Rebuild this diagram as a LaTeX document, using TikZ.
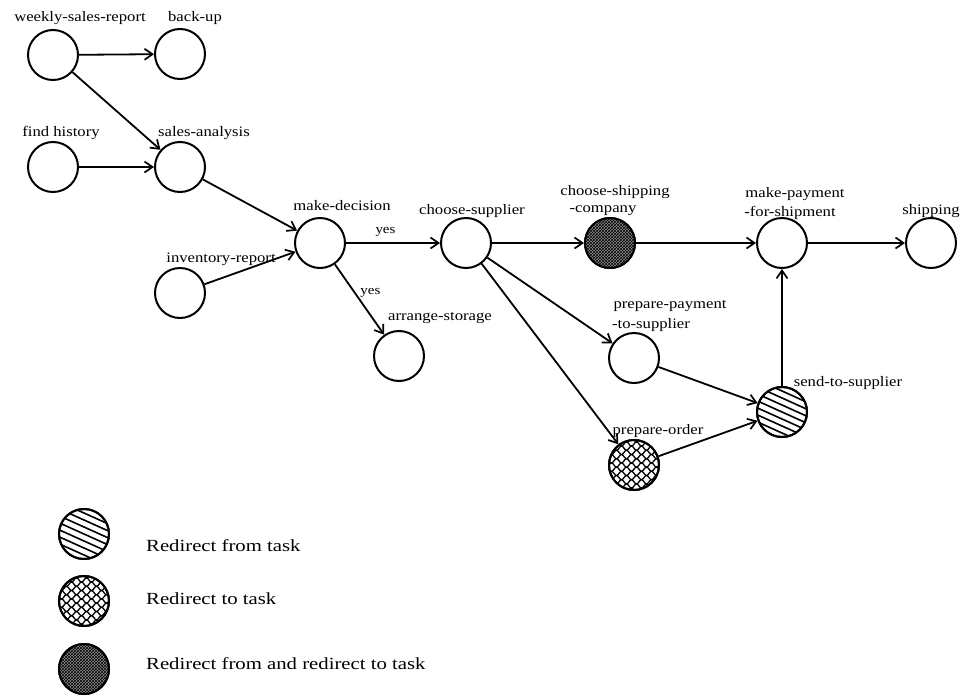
\documentclass[tikz,border=0pt]{standalone}
\usepackage{fontspec}
\setmainfont[FakeStretch=1.15]{Liberation Serif}
\newfontfamily\legendfont[FakeStretch=1.22]{Liberation Serif}
\usetikzlibrary{arrows.meta,patterns}

% fish-net mesh inside a circle centred on the current origin:
% mirrored sine waves that touch at their crests
\newcommand{\meshfill}{%
  \foreach \k in {-7,...,7}{
    \draw[line width=1.3pt] plot[domain=-28:28,samples=80,smooth]
      (\x,{\k*4.2+2.1*sin(\x*36+\k*180)});
  }}
% parallel diagonal hatching
\newcommand{\hatchfill}{%
  \foreach \k in {-42,-35,...,45}{
    \draw[line width=1.6pt] (-30,{\k-0.45*30}) -- (30,{\k+0.45*30});
  }}
% grainy dark fill
\newcommand{\densefill}[1]{%
  \fill[black!45] (#1) circle (25);
  \fill[pattern=crosshatch,pattern color=black] (#1) circle (25);}

\begin{document}
\begin{tikzpicture}[x=1pt,y=-1pt,
  task/.style={circle,draw,line width=2pt,minimum size=50pt,inner sep=0pt},
  rim/.style={line width=2pt},
  lbl/.style={font=\fontsize{14.5}{16}\selectfont,inner sep=0pt,anchor=center},
  leg/.style={font=\legendfont\fontsize{17}{19}\selectfont,inner sep=0pt,anchor=west},
  flow/.style={line width=1.8pt,-{Straight Barb[length=8pt,width=11pt,line width=1.7pt]}},
  yeslbl/.style={font=\fontsize{13}{14}\selectfont,inner sep=0pt}]
\useasboundingbox (0,0) rectangle (961,696);

% task circles
\node[task] (wsr) at (53,55)  {};
\node[task] (bu)  at (180,54) {};
\node[task] (fh)  at (53,167) {};
\node[task] (sa)  at (180,167) {};
\node[task] (md)  at (320,243) {};
\node[task] (ir)  at (180,293) {};
\node[task] (cs)  at (466,243) {};
\node[task] (csc) at (610,243) {};
\node[task] (mp)  at (782,243) {};
\node[task] (sh)  at (931,243) {};
\node[task] (as)  at (399,356) {};
\node[task] (pps) at (634,358) {};
\node[task] (sts) at (782,412) {};
\node[task] (po)  at (634,465) {};

% fills of the redirected tasks
\densefill{csc.center}
\begin{scope}[shift={(sts.center)}]
  \clip (0,0) circle (25); \hatchfill
\end{scope}
\begin{scope}[shift={(po.center)}]
  \clip (0,0) circle (25); \meshfill
\end{scope}
\draw[rim] (csc.center) circle (25) (sts.center) circle (25) (po.center) circle (25);

% task names
\node[lbl] (t1)  at (80,18)   {weekly-sales-report};
\node[lbl] (t2)  at (195,18)  {back-up};
\node[lbl] (t3)  at (61,133)  {find history};
\node[lbl] (t4)  at (204,133) {sales-analysis};
\node[lbl] (t5)  at (342,206) {make-decision};
\node[lbl] (t6)  at (221,259) {inventory-report};
\node[lbl] (t7)  at (472,211) {choose-supplier};
\node[lbl] (t8)  at (615,192) {choose-shipping};
\node[lbl] (t9)  at (603,211) {-company};
\node[lbl] (t10) at (795,194) {make-payment};
\node[lbl] (t11) at (790,213) {-for-shipment};
\node[lbl] (t12) at (931,211) {shipping};
\node[lbl] (t13) at (440,318) {arrange-storage};
\node[lbl] (t14) at (670,306) {prepare-payment};
\node[lbl] (t15) at (651,325) {-to-supplier};
\node[lbl] (t16) at (848,383) {send-to-supplier};
\node[lbl] (t17) at (658,431) {prepare-order};

% flow connectors
\draw[flow] (wsr) -- (bu);
\draw[flow] (wsr) -- (sa);
\draw[flow] (fh) -- (sa);
\draw[flow] (sa) -- (md);
\draw[flow] (ir) -- (md);
\draw[flow] (md) -- node[yeslbl,above=6pt,pos=0.42] {yes} (cs);
\draw[flow] (md) -- node[yeslbl,right=5pt,pos=0.4] {yes} (as);
\draw[flow] (cs) -- (csc);
\draw[flow] (csc) -- (mp);
\draw[flow] (mp) -- (sh);
\draw[flow] (cs) -- (pps);
\draw[flow] (cs) -- (po);
\draw[flow] (pps) -- (sts);
\draw[flow] (po) -- (sts);
\draw[flow] (sts) -- (mp);

% legend
\node[task] (k1) at (84,534) {};
\node[task] (k2) at (84,601) {};
\node[task] (k3) at (84,669) {};
\begin{scope}[shift={(k1.center)}]
  \clip (0,0) circle (25); \hatchfill
\end{scope}
\begin{scope}[shift={(k2.center)}]
  \clip (0,0) circle (25); \meshfill
\end{scope}
\densefill{k3.center}
\draw[rim] (k1.center) circle (25) (k2.center) circle (25) (k3.center) circle (25);
\node[leg] (l1) at (146,546) {Redirect from task};
\node[leg] (l2) at (146,599) {Redirect to task};
\node[leg] (l3) at (146,664) {Redirect from and redirect to task};
\end{tikzpicture}
\end{document}
